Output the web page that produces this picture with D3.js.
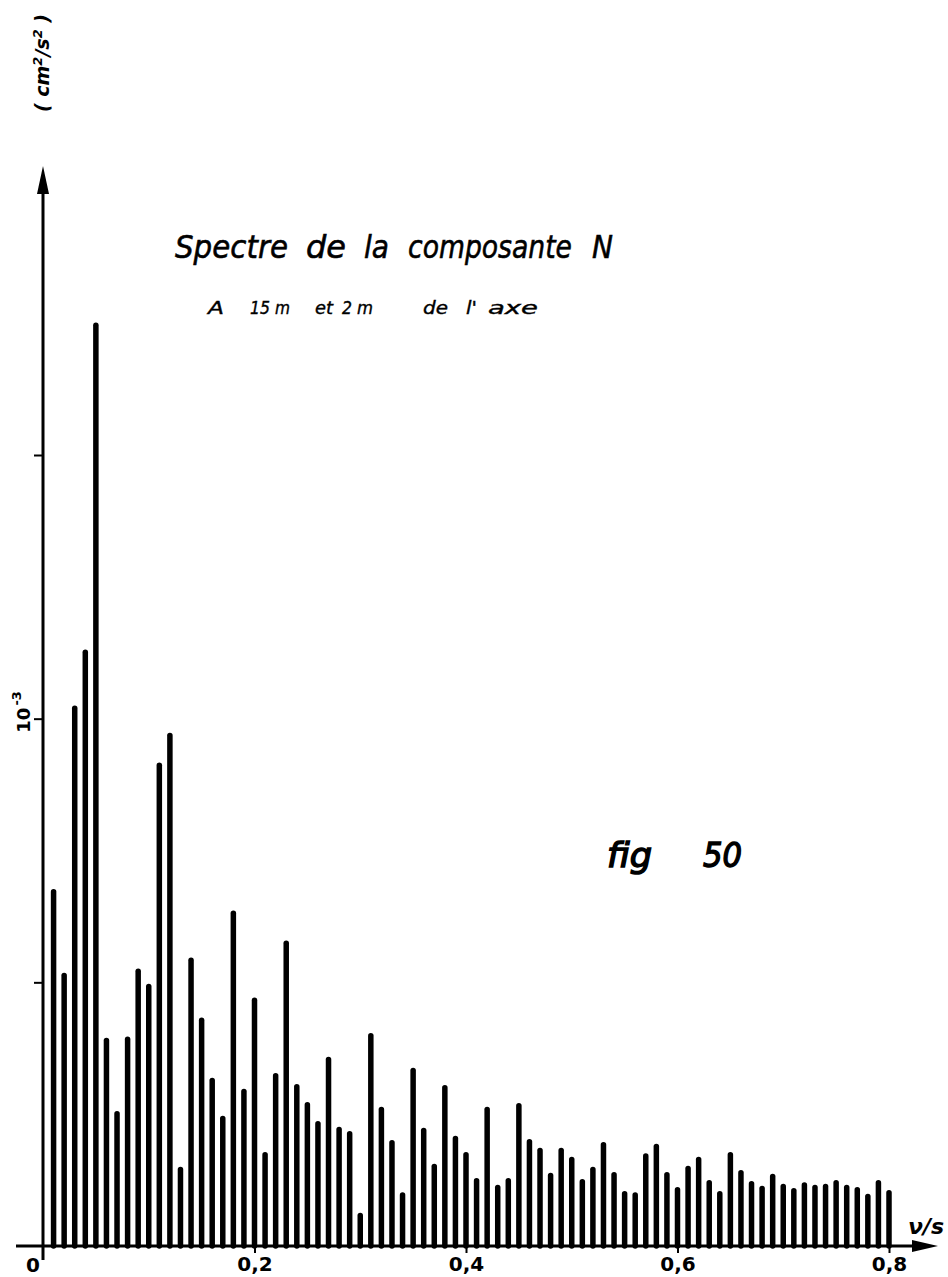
<!DOCTYPE html>
<html>
<head>
<meta charset="utf-8">
<script src="https://cdn.jsdelivr.net/npm/d3@7/dist/d3.min.js"></script>
<style>
  html, body { margin: 0; padding: 0; background: #fff; }
  svg { display: block; }
  text { font-family: "DejaVu Sans", "Liberation Sans", sans-serif; fill: #000; }
</style>
</head>
<body>
<svg id="chart" width="948" height="1277"></svg>
<script>
// Frequencies (ν/s), one line every 0.01 from 0.01 to 0.80
const frequencies = [
  0.01,0.02,0.03,0.04,0.05,0.06,0.07,0.08,0.09,0.10,
  0.11,0.12,0.13,0.14,0.15,0.16,0.17,0.18,0.19,0.20,
  0.21,0.22,0.23,0.24,0.25,0.26,0.27,0.28,0.29,0.30,
  0.31,0.32,0.33,0.34,0.35,0.36,0.37,0.38,0.39,0.40,
  0.41,0.42,0.43,0.44,0.45,0.46,0.47,0.48,0.49,0.50,
  0.51,0.52,0.53,0.54,0.55,0.56,0.57,0.58,0.59,0.60,
  0.61,0.62,0.63,0.64,0.65,0.66,0.67,0.68,0.69,0.70,
  0.71,0.72,0.73,0.74,0.75,0.76,0.77,0.78,0.79,0.80
];

// Spectral amplitude, in units of 10^-3 cm²/s²
const amplitudes = [
  0.677,0.518,1.025,1.131,1.751,0.395,0.256,0.397,0.526,0.497,
  0.917,0.973,0.150,0.547,0.433,0.319,0.247,0.636,0.298,0.471,
  0.178,0.328,0.579,0.307,0.273,0.237,0.359,0.226,0.218,0.063,
  0.404,0.264,0.201,0.102,0.338,0.224,0.156,0.305,0.209,0.178,
  0.129,0.264,0.116,0.129,0.271,0.203,0.186,0.139,0.186,0.169,
  0.127,0.150,0.197,0.140,0.104,0.102,0.176,0.194,0.140,0.112,
  0.152,0.169,0.125,0.104,0.178,0.144,0.123,0.114,0.137,0.118,
  0.110,0.121,0.116,0.118,0.125,0.116,0.112,0.099,0.125,0.106
];

// Axis ticks
const xTicks = [0.2, 0.4, 0.6, 0.8];
const xTickLabels = ["0,2", "0,4", "0,6", "0,8"];
const yTicks = [0.5, 1.0, 1.5];
const yTickLabels = ["", "10", ""];   // the labelled tick carries the 10^-3 factor

const svg = d3.select("#chart");

const x = d3.scaleLinear().domain([0, 0.8]).range([43, 889]);
const y = d3.scaleLinear().domain([0, 1.5]).range([1246, 455]);

// Spectral lines
svg.append("g")
  .selectAll("line")
  .data(frequencies)
  .join("line")
  .attr("x1", d => x(d))
  .attr("x2", d => x(d))
  .attr("y1", y(0))
  .attr("y2", (d, i) => y(amplitudes[i]) + 2.7)
  .attr("stroke", "#000")
  .attr("stroke-width", 5.5)
  .attr("stroke-linecap", "round");

// Y axis ticks
const yAxis = d3.axisLeft(y).tickValues(yTicks).tickSize(9).tickFormat(() => "");
const gy = svg.append("g").attr("transform", `translate(${x(0)},0)`).call(yAxis);
gy.select(".domain").remove();
gy.selectAll(".tick line").attr("stroke", "#000").attr("stroke-width", 2);

// X axis ticks and labels
const xAxis = d3.axisBottom(x).tickValues(xTicks).tickSize(7)
  .tickFormat((d, i) => xTickLabels[i]);
const gx = svg.append("g").attr("transform", `translate(0,${y(0)})`).call(xAxis);
gx.select(".domain").remove();
gx.selectAll(".tick line").attr("stroke", "#000").attr("stroke-width", 2);
gx.selectAll(".tick text")
  .attr("y", 11)
  .attr("dy", "0.71em")
  .style("font-size", "20px")
  .style("font-weight", "bold")
  .style("font-family", "'DejaVu Sans', sans-serif");

// Axis lines with arrowheads
svg.append("line")
  .attr("x1", x(0)).attr("x2", x(0))
  .attr("y1", y(0) + 14).attr("y2", 185)
  .attr("stroke", "#000").attr("stroke-width", 3);
svg.append("path")
  .attr("d", `M${x(0)},166 L${x(0) - 6},194 L${x(0) + 6},194 Z`)
  .attr("fill", "#000");

svg.append("line")
  .attr("x1", 16).attr("x2", 920)
  .attr("y1", y(0)).attr("y2", y(0))
  .attr("stroke", "#000").attr("stroke-width", 3);
svg.append("path")
  .attr("d", `M938,${y(0)} L912,${y(0) - 6} L912,${y(0) + 6} Z`)
  .attr("fill", "#000");

// Origin label
svg.append("text")
  .attr("x", 33).attr("y", 1272)
  .attr("text-anchor", "middle")
  .style("font-size", "20px").style("font-weight", "bold")
  .text("0");

// Y tick label 10^-3
yTicks.forEach((t, i) => {
  if (!yTickLabels[i]) return;
  const lbl = svg.append("text")
    .attr("transform", `translate(30,${y(t) + 14}) rotate(-90)`)
    .attr("text-anchor", "start")
    .style("font-size", "18px").style("font-weight", "bold")
    .text(yTickLabels[i]);
  lbl.append("tspan")
    .attr("dy", -9)
    .attr("dx", 2)
    .style("font-size", "13px")
    .text("-3");
});

// Y unit label
const unit = svg.append("text")
  .attr("transform", "translate(49,112) rotate(-90)")
  .attr("text-anchor", "start")
  .style("font-size", "19px").style("font-style", "italic").style("font-weight", "bold");
unit.append("tspan").text("( cm");
unit.append("tspan").attr("dy", -7).style("font-size", "13px").text("2");
unit.append("tspan").attr("dy", 7).text("/s");
unit.append("tspan").attr("dy", -7).style("font-size", "13px").text("2");
unit.append("tspan").attr("dy", 7).text(" )");

// X unit label
svg.append("text")
  .attr("x", 926).attr("y", 1234)
  .attr("text-anchor", "middle")
  .style("font-size", "22px").style("font-style", "italic").style("font-weight", "bold")
  .text("\u03BD/s");

// Draws words at given left edges, each squeezed horizontally to a target width
function placeWords(words, baseline, size, strokeW) {
  const g = svg.append("g");
  words.forEach(d => {
    const t = g.append("text")
      .attr("x", 0).attr("y", 0)
      .style("font-size", size + "px").style("font-style", "italic")
      .style("stroke", "#000").style("stroke-width", strokeW)
      .text(d.t);
    const natural = t.node().getComputedTextLength();
    const sx = natural > 0 ? d.w / natural : 1;
    t.attr("transform", `translate(${d.x},${baseline}) scale(${sx},1)`);
  });
}

// Title, word by word
const titleWords = [
  { t: "Spectre", x: 175, w: 113 },
  { t: "de", x: 306, w: 40 },
  { t: "la", x: 364, w: 25 },
  { t: "composante", x: 408, w: 164 },
  { t: "N", x: 592, w: 21 }
];
placeWords(titleWords, 258, 32, 0.6);

// Subtitle pieces
const subtitleWords = [
  { t: "A", x: 208, w: 16 },
  { t: "15", x: 250, w: 20 },
  { t: "m", x: 275, w: 15 },
  { t: "et", x: 315, w: 18 },
  { t: "2", x: 342, w: 10 },
  { t: "m", x: 357, w: 16 },
  { t: "de", x: 423, w: 25 },
  { t: "l'", x: 466, w: 11 },
  { t: "axe", x: 488, w: 50 }
];
placeWords(subtitleWords, 314, 18, 0.4);

// Figure number
placeWords([{ t: "fig", x: 607, w: 45 }, { t: "50", x: 703, w: 39 }], 867, 33, 1.4);
</script>
</body>
</html>
